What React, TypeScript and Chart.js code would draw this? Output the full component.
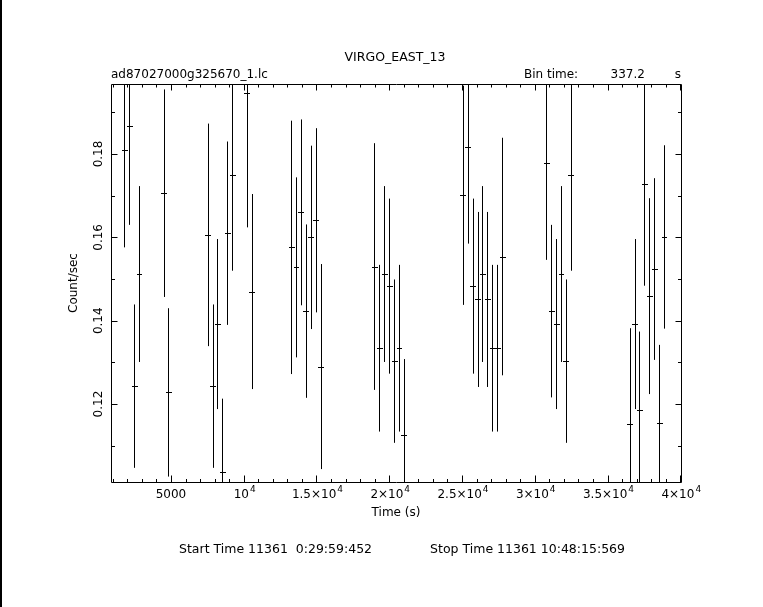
import React, { useEffect, useRef } from "react";
import { Chart, registerables } from "chart.js";

Chart.register(...registerables);

// ---- data ----
const BIN_TIME = 337.2;
const TIMES = [
  1790, 2127, 2464, 2802, 4488, 4825, 7522, 7860, 8197, 8534, 8871, 9208,
  10220, 10557, 13255, 13592, 13929, 14266, 14604, 14941, 15278, 18987,
  19324, 19662, 19999, 20336, 20673, 21010, 25057, 25394, 25731, 26068,
  26406, 26743, 27080, 27417, 27754, 30789, 31126, 31464, 31801, 32138,
  32475, 36522, 36859, 37196, 37533, 37871, 38208, 38545, 38882,
];
const RATES = [
  0.1809, 0.1867, 0.1243, 0.1512, 0.1706, 0.1228, 0.1606, 0.1243, 0.1392,
  0.1037, 0.161, 0.1749, 0.1946, 0.147, 0.1576, 0.1528, 0.166, 0.1423, 0.16,
  0.1641, 0.129, 0.153, 0.1334, 0.1512, 0.1483, 0.1303, 0.1334, 0.1126,
  0.1701, 0.1818, 0.1483, 0.1451, 0.1512, 0.1451, 0.1334, 0.1334, 0.1554,
  0.1778, 0.1423, 0.1392, 0.1512, 0.1303, 0.1749, 0.1151, 0.1392, 0.1185,
  0.1727, 0.1459, 0.1524, 0.1154, 0.1601,
];
const ERRORS = [
  0.0233, 0.0237, 0.0196, 0.0211, 0.0249, 0.0202, 0.0267, 0.0196, 0.0204,
  0.0176, 0.022, 0.0229, 0.0322, 0.0234, 0.0304, 0.0216, 0.0223, 0.0208,
  0.022, 0.0221, 0.0246, 0.0296, 0.02, 0.0211, 0.021, 0.0196, 0.02, 0.0182,
  0.0263, 0.0233, 0.021, 0.021, 0.0211, 0.021, 0.02, 0.02, 0.0285, 0.0232,
  0.0207, 0.0204, 0.0211, 0.0196, 0.0229, 0.0231, 0.0204, 0.0189, 0.0243,
  0.0235, 0.0218, 0.0188, 0.022,
];

const X_TICK_VALUES = [5000, 10000, 15000, 20000, 25000, 30000, 35000, 40000];
const X_TICK_BASE = ["5000", "10", "1.5×10", "2×10", "2.5×10", "3×10", "3.5×10", "4×10"];
const X_TICK_SUP = ["", "4", "4", "4", "4", "4", "4", "4"];
const X_MINOR_STEP = 1000;
const Y_TICK_VALUES = [0.12, 0.14, 0.16, 0.18];
const Y_TICK_LABELS = ["0.12", "0.14", "0.16", "0.18"];
const Y_MINOR_STEP = 0.01;

const X_MIN = 880;
const X_MAX = 40050;
const Y_MIN = 0.1013;
const Y_MAX = 0.1968;

const TITLE = "VIRGO_EAST_13";
const FILE_NAME = "ad87027000g325670_1.lc";
const BIN_LABEL = "Bin time:";
const BIN_VALUE = "337.2";
const BIN_UNIT = "s";
const X_TITLE = "Time (s)";
const Y_TITLE = "Count/sec";
const FOOTER_START = "Start Time 11361  0:29:59:452";
const FOOTER_STOP = "Stop Time 11361 10:48:15:569";

const FONT = '"DejaVu Sans", "Liberation Sans", sans-serif';

const pgplotPlugin = {
  id: "pgplotFrame",
  afterDatasetsDraw(chart: any) {
    const { ctx, chartArea: a, scales } = chart;
    const xs = scales.x;
    const ys = scales.y;
    const L = Math.round(a.left) + 0.5;
    const R = Math.round(a.right) + 0.5;
    const T = Math.round(a.top) + 0.5;
    const B = Math.round(a.bottom) + 0.5;

    ctx.save();
    ctx.strokeStyle = "#000";
    ctx.fillStyle = "#000";
    ctx.lineWidth = 1;

    // error bars + bin-width ticks, clipped to plot area
    ctx.save();
    ctx.beginPath();
    ctx.rect(a.left, a.top, a.right - a.left, a.bottom - a.top);
    ctx.clip();
    ctx.beginPath();
    TIMES.forEach((t, i) => {
      const px = Math.round(xs.getPixelForValue(t)) + 0.5;
      const yTop = ys.getPixelForValue(RATES[i] + ERRORS[i]);
      const yBot = ys.getPixelForValue(RATES[i] - ERRORS[i]);
      ctx.moveTo(px, yTop);
      ctx.lineTo(px, yBot);
      const py = Math.round(ys.getPixelForValue(RATES[i])) + 0.5;
      const x1 = xs.getPixelForValue(t - BIN_TIME / 2);
      const x2 = xs.getPixelForValue(t + BIN_TIME / 2);
      ctx.moveTo(Math.round(x1), py);
      ctx.lineTo(Math.round(x2) + 1, py);
    });
    ctx.stroke();
    ctx.restore();

    // frame
    ctx.beginPath();
    ctx.rect(L, T, R - L, B - T);
    ctx.stroke();

    // x ticks (bottom + top, inward)
    ctx.beginPath();
    for (let v = X_MINOR_STEP; v <= X_MAX; v += X_MINOR_STEP) {
      if (v < X_MIN) continue;
      const major = X_TICK_VALUES.includes(v);
      const px = Math.round(xs.getPixelForValue(v)) + 0.5;
      const lb = major ? 7 : 3.5;
      const lt = major ? 6 : 3;
      ctx.moveTo(px, B);
      ctx.lineTo(px, B - lb);
      ctx.moveTo(px, T);
      ctx.lineTo(px, T + lt);
    }
    // y ticks (left + right, inward)
    for (let k = 1; k < 30; k++) {
      const v = k * Y_MINOR_STEP;
      if (v < Y_MIN || v > Y_MAX) continue;
      const major = Y_TICK_VALUES.some((m) => Math.abs(m - v) < 1e-9);
      const py = Math.round(ys.getPixelForValue(v)) + 0.5;
      const len = major ? 6 : 3.5;
      ctx.moveTo(L, py);
      ctx.lineTo(L + len, py);
      ctx.moveTo(R, py);
      ctx.lineTo(R - len, py);
    }
    ctx.stroke();

    // x tick labels with superscripts
    const baseFont = `12px ${FONT}`;
    const supFont = `9px ${FONT}`;
    X_TICK_VALUES.forEach((v, i) => {
      const px = xs.getPixelForValue(v);
      ctx.font = baseFont;
      const wb = ctx.measureText(X_TICK_BASE[i]).width;
      ctx.font = supFont;
      const ws = X_TICK_SUP[i] ? ctx.measureText(X_TICK_SUP[i]).width + 1 : 0;
      const x0 = px - (wb + ws) / 2 + (X_TICK_SUP[i] ? 1 : 0);
      ctx.textAlign = "left";
      ctx.textBaseline = "alphabetic";
      ctx.font = baseFont;
      ctx.fillText(X_TICK_BASE[i], x0, 498);
      if (X_TICK_SUP[i]) {
        ctx.font = supFont;
        ctx.fillText(X_TICK_SUP[i], x0 + wb + 1, 492);
      }
    });

    // y tick labels (rotated)
    ctx.font = baseFont;
    Y_TICK_VALUES.forEach((v, i) => {
      const py = ys.getPixelForValue(v);
      ctx.save();
      ctx.translate(101.5, py);
      ctx.rotate(-Math.PI / 2);
      ctx.textAlign = "center";
      ctx.textBaseline = "alphabetic";
      ctx.fillText(Y_TICK_LABELS[i], 0, 0);
      ctx.restore();
    });

    // axis titles
    const cx = (a.left + a.right) / 2;
    const cy = (a.top + a.bottom) / 2;
    ctx.textAlign = "center";
    ctx.fillText(X_TITLE, cx, 516);
    ctx.save();
    ctx.translate(76.5, cy);
    ctx.rotate(-Math.PI / 2);
    ctx.fillText(Y_TITLE, 0, 0);
    ctx.restore();

    // titles
    ctx.font = `12.5px ${FONT}`;
    ctx.fillText(TITLE, cx - 1, 61);
    ctx.font = baseFont;
    ctx.textAlign = "left";
    ctx.fillText(FILE_NAME, a.left, 78);
    ctx.fillText(BIN_LABEL, 524, 78);
    ctx.fillText(BIN_VALUE, 610.5, 78);
    ctx.textAlign = "right";
    ctx.fillText(BIN_UNIT, a.right, 78);

    // footer
    ctx.font = `12.5px ${FONT}`;
    ctx.textAlign = "left";
    ctx.fillText(FOOTER_START, 179, 553);
    ctx.textAlign = "right";
    ctx.fillText(FOOTER_STOP, 625, 553);

    // left page border
    ctx.fillRect(0, 0, 2, chart.height);

    ctx.restore();
  },
};

export default function App() {
  const ref = useRef<HTMLCanvasElement>(null);

  useEffect(() => {
    const canvas = ref.current;
    if (!canvas) return;
    const chart = new Chart(canvas, {
      type: "scatter",
      data: {
        datasets: [
          {
            label: "Count/sec",
            data: TIMES.map((t, i) => ({ x: t, y: RATES[i] })),
            pointRadius: 0,
            pointHoverRadius: 0,
            borderColor: "#000",
            backgroundColor: "#000",
            showLine: false,
          },
        ],
      },
      options: {
        responsive: false,
        animation: false,
        devicePixelRatio: 1,
        events: [],
        layout: { padding: { left: 0, top: 84, right: 82, bottom: 0 } },
        plugins: {
          legend: { display: false },
          tooltip: { enabled: false },
          title: { display: false },
        },
        scales: {
          x: {
            type: "linear",
            min: X_MIN,
            max: X_MAX,
            grid: { display: false },
            border: { display: false },
            ticks: { display: false },
            afterFit: (s: any) => {
              s.height = 125;
            },
          },
          y: {
            type: "linear",
            min: Y_MIN,
            max: Y_MAX,
            grid: { display: false },
            border: { display: false },
            ticks: { display: false },
            afterFit: (s: any) => {
              s.width = 111;
            },
          },
        },
      },
      plugins: [pgplotPlugin],
    } as any);
    return () => chart.destroy();
  }, []);

  return (
    <div
      style={{
        position: "fixed",
        left: 0,
        top: 0,
        width: 763,
        height: 607,
        background: "#fff",
      }}
    >
      <canvas
        ref={ref}
        width={763}
        height={607}
        style={{ width: 763, height: 607, display: "block" }}
      />
    </div>
  );
}
